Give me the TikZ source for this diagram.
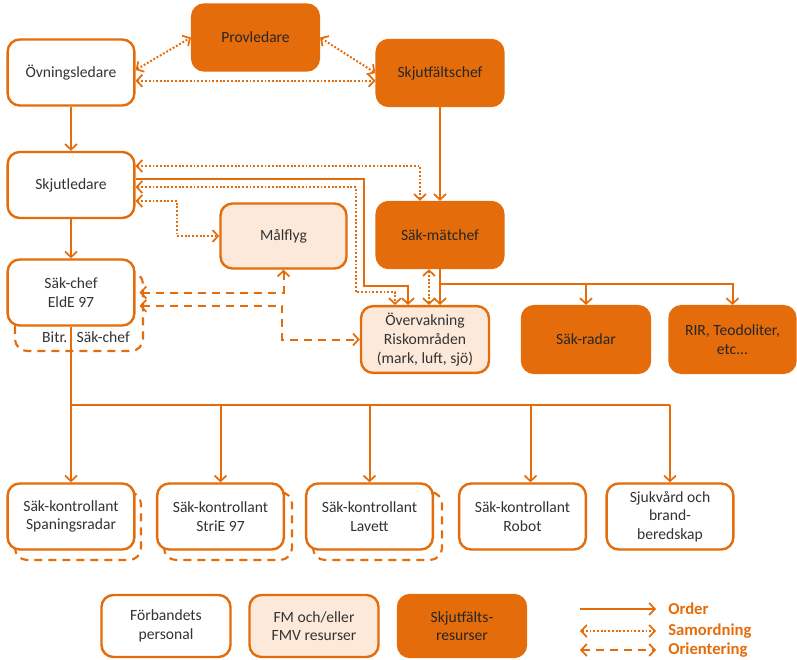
\documentclass[tikz,border=0pt]{standalone}
\usepackage{fontspec}
\setmainfont{Carlito}
\usetikzlibrary{arrows.meta}
\definecolor{orng}{HTML}{E46C0A}
\definecolor{pale}{HTML}{FDE9D9}
\definecolor{ink}{HTML}{333333}
\begin{document}
\begin{tikzpicture}[x=0.75pt,y=-0.75pt,
  box/.style={draw=orng, line width=1.8pt, rounded corners=9pt, fill=white,
    minimum width=95pt, minimum height=49.5pt, align=center, text=ink,
    font=\fontsize{11.7}{14}\selectfont, inner sep=2pt},
  own/.style={box},
  fmv/.style={box, fill=pale},
  field/.style={box, fill=orng, text=black!85},
  ghost/.style={draw=orng, line width=1.6pt, rounded corners=9pt,
    dash pattern=on 6pt off 4.5pt},
  tip/.style={-{Straight Barb[length=4.2pt,width=9pt,line width=1.3pt]}},
  both/.style={{Straight Barb[length=4.2pt,width=9pt,line width=1.3pt]}-{Straight Barb[length=4.2pt,width=9pt,line width=1.3pt]}},
  conn/.style={draw=orng, line width=1.5pt},
  order/.style={conn, tip},
  samord/.style={conn, both, dash pattern=on 1.4pt off 1.4pt},
  orient/.style={conn, both, dash pattern=on 6pt off 4.5pt},
  legtext/.style={text=orng, font=\fontsize{12.5}{14}\selectfont\bfseries, anchor=west, inner sep=0pt}
]
\useasboundingbox (0,0) rectangle (797,660);

% second persons behind some posts
\draw[ghost] (15,272) rectangle (143,351);
\draw[ghost] (15,492) rectangle (141,560);
\draw[ghost] (164,492) rectangle (292,560);
\draw[ghost] (313,492) rectangle (442,560);

% top level
\node[own]   (ovn)  at (71,72.5)   {Övningsledare};
\node[field] (prov) at (255.5,37.5) {Provledare};
\node[field] (skjf) at (440,73)    {Skjutfältschef};
\node[own]   (skjl) at (71,185)    {Skjutledare};
\node[fmv, minimum width=94.5pt, minimum height=48.75pt] (malf) at (283.5,236) {Målflyg};
\node[field] (sakm) at (440,235)   {Säk-mätchef};
\node[own]   (sakc) at (71,292.5)  {Säk-chef\\EldE 97};

% surveillance and field resources
\node[fmv, minimum width=96pt, minimum height=50pt]   (overv)  at (425,339.5) {Övervakning\\Riskområden\\(mark, luft, sjö)};
\node[field, minimum width=96pt, minimum height=50pt] (sradar) at (586,339.5) {Säk-radar};
\node[field, minimum width=94.5pt, minimum height=50pt] (rir)  at (732.5,339.5) {RIR, Teodoliter,\\etc...};

% safety controllers
\node[own] (k1) at (71,516.5)    {Säk-kontrollant\\Spaningsradar};
\node[own] (k2) at (220.5,516.5) {Säk-kontrollant\\StriE 97};
\node[own] (k3) at (369.5,516.5) {Säk-kontrollant\\Lavett};
\node[own] (k4) at (522.5,516.5) {Säk-kontrollant\\Robot};
\node[own] (k5) at (670,516.5)   {Sjukvård och\\brand-\\beredskap};

% legend
\node[own, minimum width=96.75pt, minimum height=46.5pt] (l1) at (166,626) {Förbandets\\personal};
\node[fmv, minimum width=96.75pt, minimum height=46.5pt] (l2) at (314,626) {FM och/eller\\FMV resurser};
\node[field, minimum width=96pt, minimum height=46.5pt] (l3) at (462,626) {Skjutfälts-\\resurser};
\coordinate (a1) at (580,609); \coordinate (b1) at (656,609);
\coordinate (a2) at (580,631); \coordinate (b2) at (656,631);
\coordinate (a3) at (580,650); \coordinate (b3) at (656,650);
\draw[order]  (a1) -- (b1);
\draw[samord] (a2) -- (b2);
\draw[orient] (a3) -- (b3);
\node[legtext] (t1) at (668,609) {Order};
\node[legtext] (t2) at (668,631) {Samordning};
\node[legtext] (t3) at (668,650) {Orientering};

% coordination at the top
\draw[samord] ([yshift=1.9pt]ovn.east) -- (prov.west);
\draw[samord] (prov.east) -- (skjf.west);
\draw[samord] ([yshift=-6.2pt]ovn.east) -- ([yshift=-6.2pt]ovn.east -| skjf.west);

% orders downwards
\draw[order] (ovn.south) -- (skjl.north);
\draw[order] (skjf.south) -- (sakm.north);
\draw[order] (skjl.south) -- (sakc.north);

% from Skjutledare to the right
\draw[samord] ([yshift=14.25pt]skjl.east) -| ([xshift=-15pt]sakm.north);
\draw[conn, tip] ([yshift=4.5pt]skjl.east) -| (364,286) -| ([xshift=-12.75pt]overv.north);
\draw[samord] ([yshift=-1.5pt]skjl.east) -| (356,292) -| ([xshift=-22.5pt]overv.north);
\draw[samord] ([yshift=-12pt]skjl.east) -| (177,236) -- (malf.west);

% Säk-mätchef
\draw[samord] ([xshift=3pt]overv.north |- sakm.south) -- ([xshift=3pt]overv.north);
\draw[order] (sakm.south) -- (sakm.south |- overv.north);
\coordinate (br) at (440,284);
\draw[order] (br) -| (sradar.north);
\draw[order] (br) -| (rir.north);

% Säk-chef orientation
\draw[orient] ([xshift=3pt]sakc.east) -| (malf.south);
\draw[orient] ([xshift=3pt,yshift=-10pt]sakc.east) -| (282,339.5) -- (overv.west);

% orders to the safety controllers
\coordinate (bus) at (71,405);
\draw[conn] (sakc.south) -- (bus) -- (bus -| k5.north);
\draw[order] (bus) -- (k1.north);
\draw[order] (bus -| k2.north) -- (k2.north);
\draw[order] (bus -| k3.north) -- (k3.north);
\draw[order] ([xshift=6pt]bus -| k4.north) -- ([xshift=6pt]k4.north);
\draw[order] (bus -| k5.north) -- (k5.north);

% deputy label, set over the line
\node[text=ink, font=\fontsize{11.7}{14}\selectfont, inner sep=0pt] (bitr) at (86,337) {Bitr.\hspace{7pt}Säk-chef};

\end{tikzpicture}
\end{document}
